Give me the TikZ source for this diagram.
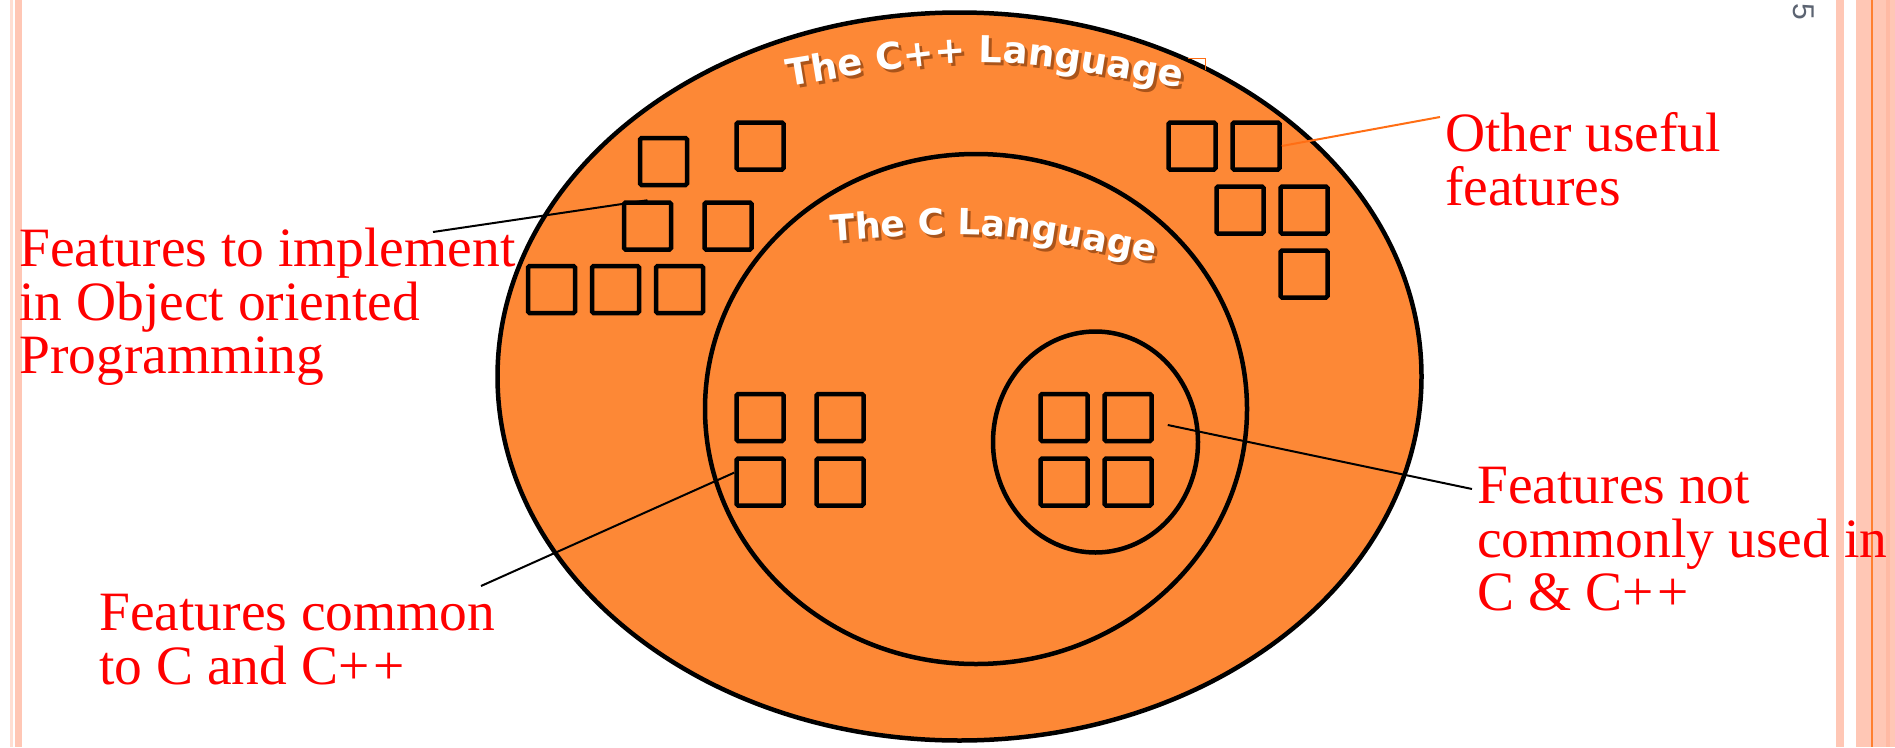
\documentclass[tikz,border=0pt]{standalone}
\usepackage{fontspec}
\setmainfont{Liberation Serif}
\newfontfamily\titlefont{DejaVu Sans}
\newfontfamily\pagefont{Liberation Sans}
\usetikzlibrary{decorations.text,calc}

\definecolor{venn}{RGB}{253,136,54}
\definecolor{stripe}{RGB}{255,199,181}
\definecolor{stripelight}{RGB}{255,222,210}
\definecolor{stripedark}{RGB}{255,186,164}
\definecolor{stripeline}{RGB}{255,128,48}
\definecolor{labelred}{RGB}{255,0,0}
\definecolor{titleshadow}{RGB}{170,84,26}
\definecolor{pagegray}{RGB}{92,100,114}
\definecolor{leader}{RGB}{255,110,20}

\newcommand{\cpp}{C+\kern4pt+}

\tikzset{
  setring/.style={draw=black, fill=venn, line width=4.5pt},
  feature/.style={draw=black, line width=4.5pt, minimum size=47pt, inner sep=0pt, rounded corners=1.5pt},
  note/.style={anchor=base west, inner sep=0pt, text=labelred, font=\fontsize{55.5}{53}\selectfont},
  pointer/.style={draw=black, line width=2pt},
  titletext/.style={decorate, decoration={text along path, text align=center,
      text color=#1, text={|\titlefont\bfseries\fontsize{37}{37}\selectfont|The C++ Language}}},
  subtitletext/.style={decorate, decoration={text along path, text align=center,
      text color=#1, text={|\titlefont\bfseries\fontsize{36}{36}\selectfont|The C Language}}},
}

\begin{document}
\begin{tikzpicture}[x=1pt,y=1pt]
\useasboundingbox (0,0) rectangle (1895,-747);
\fill[white] (0,0) rectangle (1895,-747);

% slide side stripes
\fill[stripelight] (10,0) rectangle (12.5,-747);
\fill[stripe] (15,0) rectangle (22,-747);
\fill[stripe] (1836,0) rectangle (1844,-747);
\fill[stripe] (1856,0) rectangle (1895,-747);
\fill[stripedark] (1886,0) rectangle (1890,-747);
\draw[stripeline, line width=1.5pt] (1872,0) -- (1872,-747);

% page number
\node[rotate=-90, text=pagegray, font=\pagefont\fontsize{30}{30}\selectfont, inner sep=0pt] (pageno) at (1804,-12) {5};

% nested language sets
\draw[setring] (959.5,-376.5) ellipse [x radius=462, y radius=364];
\draw[setring] (976,-409) ellipse [x radius=271, y radius=255];
\draw[setring] (1095.5,-442) ellipse [x radius=102.5, y radius=110.5];

% set titles: shadow first, then the white lettering
\path[titletext=titleshadow] (793,-89) .. controls (988,-57) .. (1183,-91);
\path[titletext=white] (790,-86) .. controls (985,-54) .. (1180,-88);
\path[subtitletext=titleshadow] (827,-245) .. controls (991,-233) .. (1165,-267);
\path[subtitletext=white] (824,-242) .. controls (988,-230) .. (1162,-264);
\draw[leader, line width=1pt] (1188,-58) -- (1205,-58) -- (1205,-70);

% object oriented features
\node[feature] (oop1) at (663.5,-161.5) {};
\node[feature] (oop2) at (760,-146) {};
\node[feature] (oop3) at (647.5,-226) {};
\node[feature] (oop4) at (728,-226) {};
\node[feature] (oop5) at (551.5,-289.5) {};
\node[feature] (oop6) at (615.5,-289.5) {};
\node[feature] (oop7) at (679.5,-289.5) {};

% other useful features
\node[feature] (extra1) at (1192,-146) {};
\node[feature] (extra2) at (1256,-146) {};
\node[feature] (extra3) at (1240,-210) {};
\node[feature] (extra4) at (1304,-210) {};
\node[feature] (extra5) at (1304,-274) {};

% features common to C and C++
\node[feature] (common1) at (760,-417.5) {};
\node[feature] (common2) at (840,-417.5) {};
\node[feature] (common3) at (760,-482) {};
\node[feature] (common4) at (840,-482) {};

% rarely used features
\node[feature] (rare1) at (1064,-417.5) {};
\node[feature] (rare2) at (1128,-417.5) {};
\node[feature] (rare3) at (1064,-482) {};
\node[feature] (rare4) at (1128,-482) {};

% labels
\node[note] (oopNote) at (19,-266) {\begin{tabular}[t]{@{}l@{}}Features to implement\\in Object oriented\\Programming\end{tabular}};
\node[note] (otherNote) at (1445,-151) {\begin{tabular}[t]{@{}l@{}}Other useful\\features\end{tabular}};
\node[note] (rareNote) at (1477,-503) {\begin{tabular}[t]{@{}l@{}}Features not\\commonly used in\\C \& \cpp\end{tabular}};
\node[note] (commonNote) at (99,-630) {\begin{tabular}[t]{@{}l@{}}Features common\\to C and \cpp\end{tabular}};

% leader lines
\coordinate (oopTip) at (433,-232);
\coordinate (otherTip) at (1440,-117);
\coordinate (commonTip) at (481,-586);
\coordinate (rareTip) at (1472,-489);
\draw[pointer] (oopTip) -- (oop3.north);
\draw[pointer, draw=leader] (extra2.east) -- (otherTip);
\draw[pointer] (commonTip) -- (common3.160);
\draw[pointer] ($(rare2.east)+(14,-7.5)$) -- (rareTip);
\end{tikzpicture}
\end{document}
